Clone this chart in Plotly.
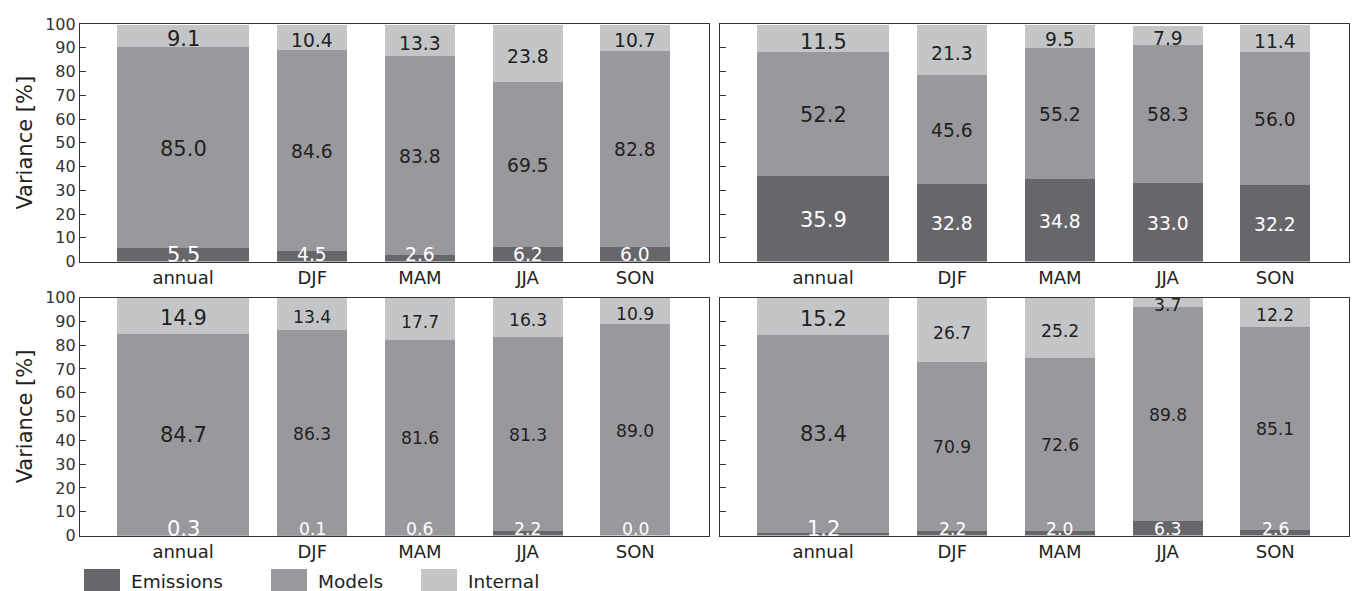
import plotly.graph_objects as go

# Categories and bar geometry (annual bar is wider than the seasonal ones)
categories = ["annual", "DJF", "MAM", "JJA", "SON"]
positions = [0.0, 1.2, 2.2, 3.2, 4.2]
bar_widths = [1.226, 0.65, 0.65, 0.65, 0.65]

series_names = ["Emissions", "Models", "Internal"]
series_colors = ["#67666b", "#99989d", "#c4c5c7"]

# Fraction of variance [%] per panel
tl_emissions = [5.5, 4.5, 2.6, 6.2, 6.0]
tl_models = [85.0, 84.6, 83.8, 69.5, 82.8]
tl_internal = [9.1, 10.4, 13.3, 23.8, 10.7]

tr_emissions = [35.9, 32.8, 34.8, 33.0, 32.2]
tr_models = [52.2, 45.6, 55.2, 58.3, 56.0]
tr_internal = [11.5, 21.3, 9.5, 7.9, 11.4]

bl_emissions = [0.3, 0.1, 0.6, 2.2, 0.0]
bl_models = [84.7, 86.3, 81.6, 81.3, 89.0]
bl_internal = [14.9, 13.4, 17.7, 16.3, 10.9]

br_emissions = [1.2, 2.2, 2.0, 6.3, 2.6]
br_models = [83.4, 70.9, 72.6, 89.8, 85.1]
br_internal = [15.2, 26.7, 25.2, 3.7, 12.2]

y_ticks = list(range(0, 101, 10))

panels = [
    ("x", "y", tl_emissions, tl_models, tl_internal, 18.7),
    ("x2", "y2", tr_emissions, tr_models, tr_internal, 18.7),
    ("x3", "y3", bl_emissions, bl_models, bl_internal, 17.2),
    ("x4", "y4", br_emissions, br_models, br_internal, 17.2),
]

FONT = "DejaVu Sans"
W, H = 1354, 591

fig = go.Figure()
annotations = []

for xa, ya, emis, mods, intl, season_size in panels:
    bases = [[0.0] * len(emis), list(emis), [e + m for e, m in zip(emis, mods)]]
    for name, color, vals, base in zip(series_names, series_colors, [emis, mods, intl], bases):
        fig.add_trace(go.Bar(
            x=positions, y=vals, base=base, width=bar_widths,
            marker=dict(color=color, line=dict(width=0)),
            name=name, showlegend=False, xaxis=xa, yaxis=ya,
            hoverinfo="skip",
        ))
    # value labels centred on each segment
    for i, (e, m, n) in enumerate(zip(emis, mods, intl)):
        size = 21 if i == 0 else season_size
        labels = [
            (e, max(e / 2.0, 3.3), "white", -1),
            (m, e + m / 2.0, "#222222", -1),
            (n, e + m + n / 2.0, "#222222", -3),
        ]
        for val, ypos, col, shift in labels:
            annotations.append(dict(
                x=positions[i], y=ypos, xref=xa, yref=ya,
                text=f"{val:.1f}", showarrow=False, yshift=shift,
                xanchor="center", yanchor="middle",
                font=dict(family=FONT, size=size, color=col),
            ))

x_left = [80 / W, 709 / W]
x_right = [720 / W, 1349 / W]
y_top = [(H - 261.5) / H, (H - 24) / H]
y_bot = [(H - 535.5) / H, (H - 297.5) / H]

axis_line = dict(showline=True, linecolor="#333333", linewidth=1.2, mirror=True,
                 showgrid=False, zeroline=False, automargin=False)


def xaxis(domain, anchor):
    return dict(domain=domain, anchor=anchor, range=[-0.957, 4.885],
                tickmode="array", tickvals=positions, ticktext=categories,
                ticks="", tickfont=dict(family=FONT, size=18, color="#222222"),
                **axis_line)


def yaxis(domain, anchor, labels):
    d = dict(domain=domain, anchor=anchor, range=[0, 100],
             tickmode="array", tickvals=y_ticks, ticks="inside", ticklen=6,
             tickcolor="#333333", tickwidth=1,
             showticklabels=labels,
             tickfont=dict(family=FONT, size=16, color="#333333"),
             **axis_line)
    if labels:
        d["title"] = dict(text="Variance [%]", font=dict(family=FONT, size=21, color="#222222"),
                          standoff=6)
    return d


# Legend drawn as swatches plus text beneath the lower panels
legend_x = [84, 271, 421]
shapes = []
for name, color, lx in zip(series_names, series_colors, legend_x):
    shapes.append(dict(type="rect", xref="paper", yref="paper",
                       x0=lx / W, x1=(lx + 36) / W, y0=0, y1=(H - 569) / H,
                       fillcolor=color, line=dict(width=0)))
    annotations.append(dict(x=(lx + 45) / W, y=(H - 581.5) / H, xref="paper", yref="paper",
                            text=name, showarrow=False, xanchor="left", yanchor="middle",
                            font=dict(family=FONT, size=18.5, color="#222222")))

fig.update_layout(
    template="none",
    width=W, height=H,
    margin=dict(l=0, r=0, t=0, b=0, pad=0),
    paper_bgcolor="white", plot_bgcolor="white",
    barmode="overlay", bargap=0,
    showlegend=False,
    xaxis=xaxis(x_left, "y"),
    yaxis=yaxis(y_top, "x", True),
    xaxis2=xaxis(x_right, "y2"),
    yaxis2=yaxis(y_top, "x2", False),
    xaxis3=xaxis(x_left, "y3"),
    yaxis3=yaxis(y_bot, "x3", True),
    xaxis4=xaxis(x_right, "y4"),
    yaxis4=yaxis(y_bot, "x4", False),
    annotations=annotations,
    shapes=shapes,
    font=dict(family=FONT),
)

fig.write_html("out.html")
